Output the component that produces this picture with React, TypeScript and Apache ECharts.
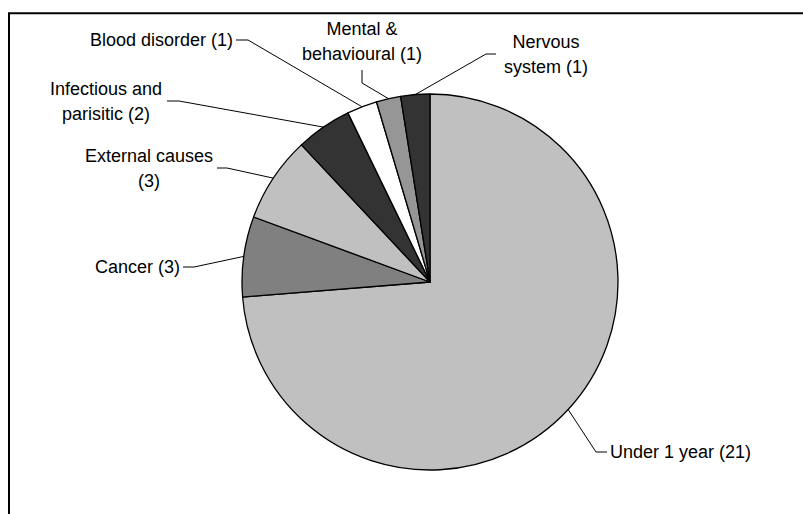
import React, { useEffect, useRef } from 'react';
import * as echarts from 'echarts';

// Categories in drawing order (clockwise from 12 o'clock)
const categories = [
  'Under 1 year',
  'Cancer',
  'External causes',
  'Infectious and parisitic',
  'Blood disorder',
  'Mental & behavioural',
  'Nervous system',
];
// Counts shown in the labels
const counts = [21, 3, 3, 2, 1, 1, 1];
// Slice sizes (share of the pie, %)
const shares = [73.8, 6.9, 7.4, 4.8, 2.6, 2.1, 2.5];
// Label texts with the line breaks seen in the picture
const labelTexts = [
  'Under 1 year (21)',
  'Cancer (3)',
  'External causes\n(3)',
  'Infectious and\nparisitic (2)',
  'Blood disorder (1)',
  'Mental &\nbehavioural (1)',
  'Nervous\nsystem (1)',
];
const sliceColors = ['#c0c0c0', '#808080', '#c0c0c0', '#333333', '#ffffff', '#969696', '#333333'];

// Layout (pixels) for labels and leader-line elbows
const CENTER: [number, number] = [430, 282];
const RADIUS = 188;
const labelPlace: { x: number; y: number; align: string; elbow: number[]; end: number[] }[] = [
  { x: 610, y: 452, align: 'left', elbow: [596, 452], end: [607, 452] },
  { x: 180, y: 267, align: 'right', elbow: [194, 267], end: [183, 267] },
  { x: 149, y: 168, align: 'center', elbow: [227, 168], end: [217, 168] },
  { x: 106, y: 101, align: 'center', elbow: [179, 101], end: [167, 101] },
  { x: 233, y: 40, align: 'right', elbow: [248, 40], end: [236, 40] },
  { x: 362, y: 41, align: 'center', elbow: [362, 83], end: [362, 70] },
  { x: 546, y: 54, align: 'center', elbow: [486, 54], end: [496, 54] },
];

function edgePoint(i: number): number[] {
  const total = shares.reduce((a, b) => a + b, 0);
  let cum = 0;
  for (let k = 0; k < i; k++) cum += shares[k];
  const theta = ((cum + shares[i] / 2) / total) * Math.PI * 2;
  return [CENTER[0] + RADIUS * Math.sin(theta), CENTER[1] - RADIUS * Math.cos(theta)];
}

export default function App() {
  const ref = useRef<HTMLDivElement>(null);
  useEffect(() => {
    if (!ref.current) return;
    const chart = echarts.init(ref.current, undefined, { renderer: 'svg' });
    chart.setOption({
      animation: false,
      backgroundColor: '#ffffff',
      graphic: [
        {
          type: 'rect',
          shape: { x: 9, y: 13.3, width: 1000, height: 1000 },
          style: { fill: 'none', stroke: '#000', lineWidth: 2 },
          silent: true,
          z: 100,
        },
      ],
      series: [
        {
          type: 'pie',
          center: CENTER,
          radius: RADIUS,
          startAngle: 90,
          clockwise: true,
          avoidLabelOverlap: false,
          emphasis: { disabled: true },
          itemStyle: { borderColor: '#000', borderWidth: 1.3 },
          label: {
            show: true,
            position: 'outside',
            color: '#000',
            fontFamily: '"Liberation Sans", Arial, sans-serif',
            fontSize: 18,
            lineHeight: 25,
            formatter: (p: any) => labelTexts[p.dataIndex],
          },
          labelLine: {
            show: true,
            length: 10,
            length2: 10,
            lineStyle: { color: '#000', width: 1 },
          },
          labelLayout: (params: any) => {
            const pl = labelPlace[params.dataIndex];
            return {
              x: pl.x,
              y: pl.y,
              align: pl.align,
              verticalAlign: 'middle',
              labelLinePoints: [edgePoint(params.dataIndex), pl.elbow, pl.end],
            };
          },
          data: categories.map((name, i) => ({
            name,
            value: shares[i],
            itemStyle: { color: sliceColors[i] },
          })),
        },
      ],
    });
    return () => chart.dispose();
  }, []);
  return (
    <div
      ref={ref}
      style={{ position: 'absolute', left: 0, top: 0, width: 803, height: 514 }}
    />
  );
}
